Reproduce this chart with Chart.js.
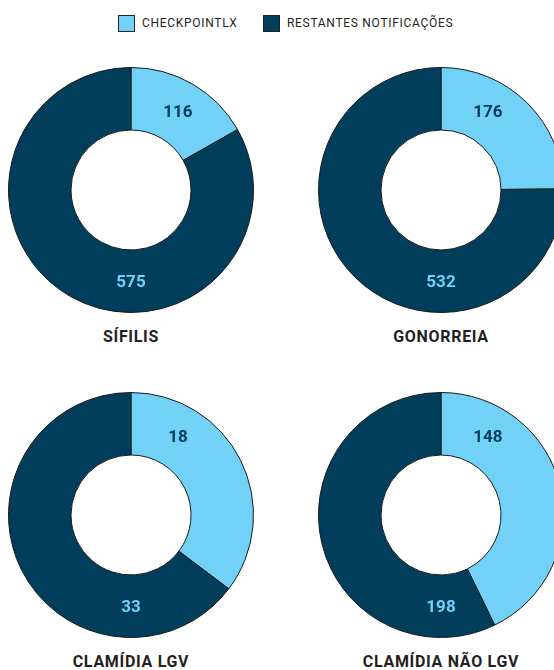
<!DOCTYPE html>
<html><head><meta charset="utf-8">
<script src="https://cdn.jsdelivr.net/npm/chart.js@4/dist/chart.umd.min.js"></script>
<style>
html,body{margin:0;padding:0;background:#fff;width:554px;height:670px;overflow:hidden;position:relative;font-family:Roboto,"DejaVu Sans",sans-serif;}
.cv{position:absolute;}
.title{position:absolute;width:300px;text-align:center;font-weight:700;font-size:16px;letter-spacing:0.7px;color:#231f20;line-height:20px;}
#legend{position:absolute;top:14px;left:0;width:554px;height:18px;}
.li{position:absolute;top:0;height:18px;display:flex;align-items:center;font-size:12px;letter-spacing:0.7px;color:#231f20;}
.box{width:17px;height:17px;border:1px solid #222;margin-right:7px;box-sizing:border-box;}
</style></head>
<body>
<div id="legend"></div>
<script>
const seriesLabels = ["CHECKPOINTLX", "RESTANTES NOTIFICAÇÕES"];
const categories = ["SÍFILIS", "GONORREIA", "CLAMÍDIA LGV", "CLAMÍDIA NÃO LGV"];
const checkpointValues = [116, 176, 18, 148];
const restantesValues = [575, 532, 33, 198];
const colors = ["#71d1f6", "#003e5c"];
const labelColors = ["#003e5c", "#71d1f6"];

// layout: center of each doughnut
const centers = [[131,190],[441,190],[131,515],[441,515]];
const S = 246;

// legend
const legend = document.getElementById('legend');
const legendX = [118, 263];
seriesLabels.forEach((l,i)=>{
  const d=document.createElement('div'); d.className='li'; d.style.left=legendX[i]+'px';
  const b=document.createElement('div'); b.className='box'; b.style.background=colors[i];
  const t=document.createElement('span'); t.textContent=l;
  d.appendChild(b); d.appendChild(t); legend.appendChild(d);
});

const labelAngles = [31, 180]; // degrees clockwise from top
const valueLabels = {
  id:'valueLabels',
  afterDatasetsDraw(chart){
    const ctx=chart.ctx; const meta=chart.getDatasetMeta(0);
    const arc=meta.data[0];
    const cx=arc.x, cy=arc.y;
    const r=(arc.outerRadius+arc.innerRadius)/2;
    ctx.save();
    ctx.font='700 17px Roboto, "DejaVu Sans", sans-serif';
    ctx.textAlign='center'; ctx.textBaseline='middle';
    chart.data.datasets[0].data.forEach((v,i)=>{
      const a=labelAngles[i]*Math.PI/180;
      ctx.fillStyle=labelColors[i];
      ctx.fillText(String(v), cx+r*Math.sin(a), cy-r*Math.cos(a)+1);
    });
    ctx.restore();
  }
};

categories.forEach((cat,k)=>{
  const [cx,cy]=centers[k];
  const c=document.createElement('canvas'); c.className='cv';
  c.width=S; c.height=S; c.style.width=S+'px'; c.style.height=S+'px';
  c.style.left=(cx-S/2)+'px'; c.style.top=(cy-S/2)+'px';
  document.body.appendChild(c);
  const t=document.createElement('div'); t.className='title'; t.textContent=cat;
  t.style.left=(cx-150)+'px'; t.style.top=(cy+137)+'px';
  document.body.appendChild(t);
  new Chart(c,{
    type:'doughnut',
    data:{labels:seriesLabels,datasets:[{data:[checkpointValues[k],restantesValues[k]],backgroundColor:colors,borderColor:'#1a1a1a',borderWidth:1}]},
    options:{responsive:false,animation:false,cutout:60,layout:{padding:0},
      plugins:{legend:{display:false},tooltip:{enabled:false}}},
    plugins:[valueLabels]
  });
});
</script>
</body></html>
